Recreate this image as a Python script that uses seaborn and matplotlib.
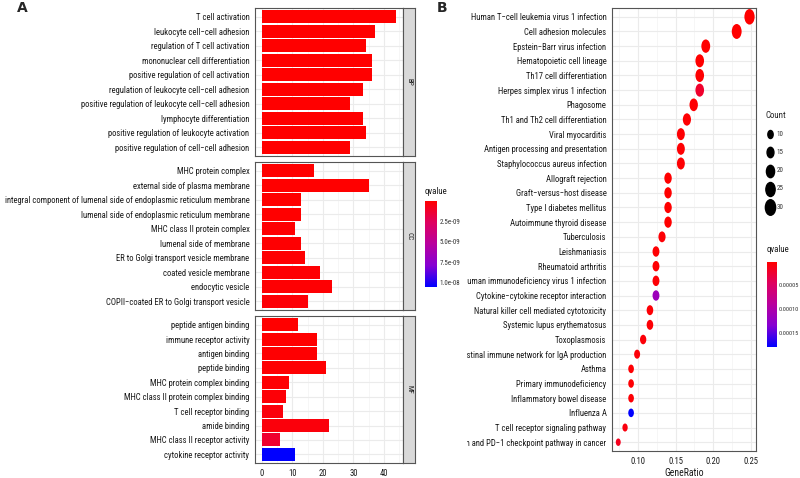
import matplotlib
matplotlib.use("Agg")
import matplotlib.pyplot as plt
import numpy as np
import pandas as pd
import seaborn as sns
from matplotlib import font_manager
from matplotlib.cm import ScalarMappable
from matplotlib.colors import LinearSegmentedColormap, Normalize
from matplotlib.path import Path
from matplotlib.transforms import Bbox, TransformedBbox

# ---- Panel A: GO enrichment ----
bp_terms = [
    "T cell activation",
    "leukocyte cell\u2212cell adhesion",
    "regulation of T cell activation",
    "mononuclear cell differentiation",
    "positive regulation of cell activation",
    "regulation of leukocyte cell\u2212cell adhesion",
    "positive regulation of leukocyte cell\u2212cell adhesion",
    "lymphocyte differentiation",
    "positive regulation of leukocyte activation",
    "positive regulation of cell\u2212cell adhesion",
]
bp_counts = [44, 37, 34, 36, 36, 33, 29, 33, 34, 29]
bp_qvalues = [2e-14, 5e-13, 8e-13, 1e-12, 2e-12, 6e-12, 9e-12, 1e-11, 2e-11, 4e-11]

cc_terms = [
    "MHC protein complex",
    "external side of plasma membrane",
    "integral component of lumenal side of endoplasmic reticulum membrane",
    "lumenal side of endoplasmic reticulum membrane",
    "MHC class II protein complex",
    "lumenal side of membrane",
    "ER to Golgi transport vesicle membrane",
    "coated vesicle membrane",
    "endocytic vesicle",
    "COPII\u2212coated ER to Golgi transport vesicle",
]
cc_counts = [17, 35, 13, 13, 11, 13, 14, 19, 23, 15]
cc_qvalues = [1e-12, 3e-12, 4e-11, 4e-11, 5e-11, 6e-11, 8e-11, 1e-10, 1.2e-10, 2e-10]

mf_terms = [
    "peptide antigen binding",
    "immune receptor activity",
    "antigen binding",
    "peptide binding",
    "MHC protein complex binding",
    "MHC class II protein complex binding",
    "T cell receptor binding",
    "amide binding",
    "MHC class II receptor activity",
    "cytokine receptor activity",
]
mf_counts = [12, 18, 18, 21, 9, 8, 7, 22, 6, 11]
mf_qvalues = [2e-11, 3e-11, 5e-11, 6e-11, 1e-10, 2e-10, 3e-10, 3e-10, 1.3e-9, 1.05e-8]

go_ticks = [2.5e-9, 5.0e-9, 7.5e-9, 1.0e-8]
go_ticklabels = ["2.5e-09", "5.0e-09", "7.5e-09", "1.0e-08"]

# ---- Panel B: KEGG enrichment ----
kegg_terms = [
    "Human T\u2212cell leukemia virus 1 infection",
    "Cell adhesion molecules",
    "Epstein\u2212Barr virus infection",
    "Hematopoietic cell lineage",
    "Th17 cell differentiation",
    "Herpes simplex virus 1 infection",
    "Phagosome",
    "Th1 and Th2 cell differentiation",
    "Viral myocarditis",
    "Antigen processing and presentation",
    "Staphylococcus aureus infection",
    "Allograft rejection",
    "Graft\u2212versus\u2212host disease",
    "Type I diabetes mellitus",
    "Autoimmune thyroid disease",
    "Tuberculosis",
    "Leishmaniasis",
    "Rheumatoid arthritis",
    "Human immunodeficiency virus 1 infection",
    "Cytokine\u2212cytokine receptor interaction",
    "Natural killer cell mediated cytotoxicity",
    "Systemic lupus erythematosus",
    "Toxoplasmosis",
    "Intestinal immune network for IgA production",
    "Asthma",
    "Primary immunodeficiency",
    "Inflammatory bowel disease",
    "Influenza A",
    "T cell receptor signaling pathway",
    "PD\u2212L1 expression and PD\u22121 checkpoint pathway in cancer",
]
kegg_ratio = [0.248, 0.231, 0.190, 0.182, 0.182, 0.182, 0.174, 0.165, 0.157, 0.157,
              0.157, 0.140, 0.140, 0.140, 0.140, 0.132, 0.124, 0.124, 0.124, 0.124,
              0.116, 0.116, 0.107, 0.099, 0.091, 0.091, 0.091, 0.091, 0.083, 0.074]
kegg_counts = [30, 28, 23, 22, 22, 22, 21, 20, 19, 19,
               19, 17, 17, 17, 17, 16, 15, 15, 15, 15,
               14, 14, 13, 12, 11, 11, 11, 11, 10, 9]
kegg_qvalues = [1.5e-6, 1.6e-6, 2e-6, 2e-6, 2.5e-6, 2.2e-5, 3e-6, 3e-6, 3e-6, 3e-6,
                3e-6, 2e-6, 2e-6, 2e-6, 2e-6, 4e-6, 3e-6, 3e-6, 4e-6, 1.15e-4,
                4e-6, 4e-6, 5e-6, 6e-6, 3e-6, 3e-6, 4e-6, 1.79e-4, 8e-6, 1.5e-5]

count_levels = [10, 15, 20, 25, 30]
kegg_ticks = [5e-5, 1e-4, 1.5e-4]
kegg_ticklabels = ["0.00005", "0.00010", "0.00015"]

# ---- style ----
sns.set_style("white")
names = {f.name for f in font_manager.fontManager.ttflist}
FONT = next((f for f in ["Liberation Sans Narrow", "Roboto Condensed", "Liberation Sans"] if f in names), "DejaVu Sans")
plt.rcParams["font.family"] = [FONT, "DejaVu Sans"]

TXT = "#1A1A1A"
FS = 6.2
W, H = 800, 478

# red -> blue through purples (ggplot2 low="red", high="blue")
cmap = LinearSegmentedColormap.from_list(
    "redblue", ["#FF0000", "#DE0060", "#B8009E", "#8600D2", "#0000FF"])

fig = plt.figure(figsize=(W / 100, H / 100), dpi=100)


def px_axes(x0, y0, x1, y1):
    return fig.add_axes([x0 / W, 1 - y1 / H, (x1 - x0) / W, (y1 - y0) / H])


def style_panel(ax):
    ax.set_facecolor("white")
    for s in ax.spines.values():
        s.set_visible(True)
        s.set_color("#555555")
        s.set_linewidth(0.8)
    ax.set_axisbelow(True)
    ax.grid(which="major", color="#EBEBEB", linewidth=0.8)
    ax.grid(which="minor", axis="x", color="#F3F3F3", linewidth=0.5)
    ax.tick_params(axis="both", colors="#333333", labelcolor=TXT, length=2.5,
                   width=0.6, labelsize=FS, pad=1.5)
    ax.tick_params(axis="x", which="minor", length=0)
    ax.set_xlabel("")
    ax.set_ylabel("")


# ---- Panel A ----
go_norm = Normalize(vmin=0, vmax=1.05e-8)
facets = [
    ("BP", bp_terms, bp_counts, bp_qvalues, 8, 156),
    ("CC", cc_terms, cc_counts, cc_qvalues, 162, 310),
    ("MF", mf_terms, mf_counts, mf_qvalues, 316, 463),
]
for i, (name, terms, counts, qvals, y0, y1) in enumerate(facets):
    ax = px_axes(255, y0, 403, y1)
    df = pd.DataFrame({"term": terms, "count": counts, "qvalue": qvals})
    pal = {t: cmap(go_norm(q)) for t, q in zip(terms, qvals)}
    sns.barplot(data=df, x="count", y="term", hue="term", palette=pal, legend=False,
                width=0.9, saturation=1, errorbar=None, edgecolor="none", ax=ax)
    ax.set_xlim(-2.2, 46.2)
    ax.set_ylim(len(terms) - 0.4, -0.6)
    ax.set_xticks([0, 10, 20, 30, 40])
    ax.set_xticks([5, 15, 25, 35, 45], minor=True)
    style_panel(ax)
    if i < 2:
        ax.tick_params(axis="x", which="both", length=0, labelbottom=False)

    sax = px_axes(403, y0, 415, y1)
    sax.set_facecolor("#D9D9D9")
    sax.set_xticks([])
    sax.set_yticks([])
    for s in sax.spines.values():
        s.set_visible(True)
        s.set_color("#555555")
        s.set_linewidth(0.8)
    sax.text(0.5, 0.5, name, rotation=270, ha="center", va="center",
             fontsize=5.2, color=TXT, transform=sax.transAxes)

# colour bar for panel A
cax_a = px_axes(425, 201, 437, 287)
cb_a = fig.colorbar(ScalarMappable(norm=go_norm, cmap=cmap), cax=cax_a)
cax_a.invert_yaxis()
cb_a.set_ticks(go_ticks)
cb_a.set_ticklabels(go_ticklabels)
cb_a.outline.set_visible(False)
cax_a.tick_params(length=2.5, width=0.6, color="white", direction="in", left=True,
                  right=True, labelsize=5, labelcolor="#333333", pad=2)
fig.text(425 / W, 1 - 191 / H, "qvalue", fontsize=6.4, color=TXT, va="center")

# ---- Panel B ----
kegg_norm = Normalize(vmin=1.5e-6, vmax=1.79e-4)
uc = Path.unit_circle()
ellipse = Path(uc.vertices * np.array([0.66, 1.0]), uc.codes)
size_range = (29, 125)

dfk = pd.DataFrame({"term": kegg_terms, "GeneRatio": kegg_ratio,
                    "Count": kegg_counts, "qvalue": kegg_qvalues})
axb = px_axes(612, 8, 756, 451)
sns.scatterplot(data=dfk, x="GeneRatio", y="term", hue="qvalue", palette=cmap,
                hue_norm=kegg_norm, size="Count", sizes=size_range, size_norm=(9, 30),
                marker=ellipse, edgecolor="none", linewidth=0, legend=False, ax=axb)
axb.set_xlim(0.0657, 0.2566)
axb.set_ylim(len(kegg_terms) - 0.4, -0.6)
axb.set_xticks([0.10, 0.15, 0.20, 0.25])
axb.set_xticks([0.075, 0.125, 0.175, 0.225], minor=True)
style_panel(axb)
axb.xaxis.set_major_formatter(matplotlib.ticker.FormatStrFormatter("%.2f"))
axb.set_xlabel("GeneRatio", fontsize=7, color=TXT, labelpad=2)

# count legend
handles = []
for c in count_levels:
    s = size_range[0] + (c - 9) / 21 * (size_range[1] - size_range[0])
    handles.append(axb.scatter([], [], s=s, marker=ellipse, color="black"))
fig.legend(handles, [str(c) for c in count_levels], title="Count",
           loc="upper left", bbox_to_anchor=(766 / W, 1 - 111 / H), frameon=False,
           fontsize=5, title_fontsize=6.4, labelspacing=1.6, handletextpad=0.3,
           handlelength=1.2, borderpad=0, borderaxespad=0, alignment="left",
           labelcolor="#333333")

cax_b = px_axes(767, 262, 777, 347)
cb_b = fig.colorbar(ScalarMappable(norm=kegg_norm, cmap=cmap), cax=cax_b)
cax_b.invert_yaxis()
cb_b.set_ticks(kegg_ticks)
cb_b.set_ticklabels(kegg_ticklabels)
cb_b.outline.set_visible(False)
cax_b.tick_params(length=2.5, width=0.6, color="white", direction="in", left=True,
                  right=True, labelsize=4.5, labelcolor="#333333", pad=1.2)
fig.text(767 / W, 1 - 250 / H, "qvalue", fontsize=6.4, color=TXT, va="center")

# panel letters
fig.text(17 / W, 1 - 8 / H, "A", fontsize=10, fontweight="bold", va="center", family="DejaVu Sans")
fig.text(437 / W, 1 - 8 / H, "B", fontsize=10, fontweight="bold", va="center", family="DejaVu Sans")

# labels of panel B are cut off where panel A ends
fig.canvas.draw()
clip = TransformedBbox(Bbox([[467 / W, 0], [1, 1]]), fig.transFigure)
for t in axb.get_yticklabels():
    t.set_clip_on(True)
    t.set_clip_box(clip)

fig.savefig("out.png", dpi=100)
